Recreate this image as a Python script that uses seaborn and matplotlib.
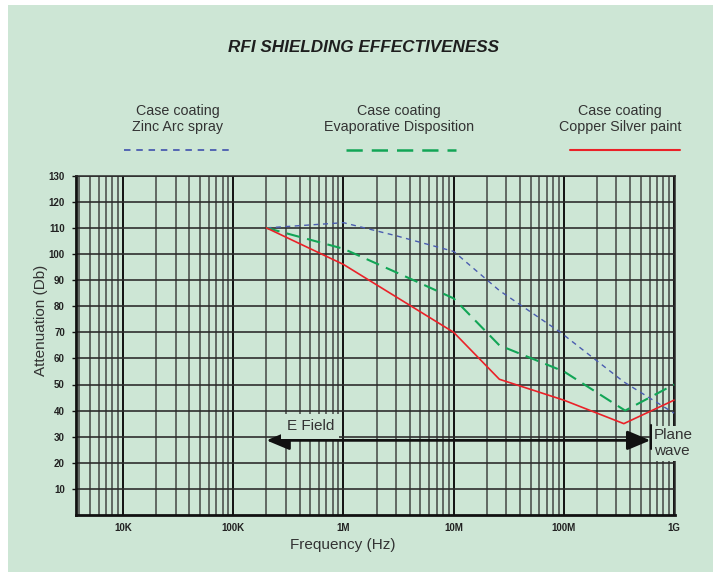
import numpy as np
import pandas as pd
import matplotlib
matplotlib.use("Agg")
import matplotlib.pyplot as plt
import seaborn as sns
from matplotlib.lines import Line2D
from matplotlib.patches import Rectangle
from matplotlib.ticker import FixedLocator, LogLocator, NullFormatter

# ---------------- data ----------------
freq_zinc = [2e5, 1e6, 3e6, 1e7, 2.6e7, 9.3e7, 3.5e8, 1e9]
att_zinc = [110, 112, 107, 101, 86, 70, 51, 39]

freq_evap = [2e5, 1e6, 3e6, 1e7, 2.6e7, 1e8, 3.6e8, 1e9]
att_evap = [110, 102, 93, 83, 65, 55, 40, 50]

freq_copper = [2e5, 1e6, 1e7, 2.6e7, 1e8, 3.5e8, 1e9]
att_copper = [110, 96, 70, 52, 44, 35, 44]

series_names = ["Case coating\nZinc Arc spray",
                "Case coating\nEvaporative Disposition",
                "Case coating\nCopper Silver paint"]

x_tick_values = [1e4, 1e5, 1e6, 1e7, 1e8, 1e9]
x_tick_labels = ["10K", "100K", "1M", "10M", "100M", "1G"]
y_tick_values = list(range(10, 140, 10))

efield_range = [2e5, 6.1e8]
efield_level = 28.6

# ---------------- style ----------------
BG = "#cde6d5"
BLUE = "#4a5cb0"
GREEN = "#12a556"
RED = "#ea2128"
GRID = "#2b2b2b"

sns.set_theme(style="white")
plt.rcParams["font.family"] = ["Liberation Sans Narrow", "Liberation Sans", "DejaVu Sans"]

W, H = 722, 577
fig = plt.figure(figsize=(W / 100, H / 100), dpi=100)
fig.patch.set_facecolor("white")
fig.patches.append(Rectangle((8 / W, 1 - 572 / H), (713 - 8) / W, (572 - 5) / H,
                             transform=fig.transFigure, facecolor=BG,
                             edgecolor="none", zorder=-5))

def fx(px):
    return px / W

def fy(py):
    return 1 - py / H

ax_l, ax_r, ax_t, ax_b = 76, 675, 175.7, 515
ax = fig.add_axes([fx(ax_l), fy(ax_b), (ax_r - ax_l) / W, (ax_b - ax_t) / H])
ax.set_facecolor(BG)
ax.set_zorder(1)

df_zinc = pd.DataFrame({"freq": freq_zinc, "att": att_zinc})
df_evap = pd.DataFrame({"freq": freq_evap, "att": att_evap})
df_copper = pd.DataFrame({"freq": freq_copper, "att": att_copper})

sns.lineplot(data=df_zinc, x="freq", y="att", ax=ax, color=BLUE, lw=1.0,
             zorder=5, sort=False)
ax.lines[-1].set_dashes([3.6, 3.2])
sns.lineplot(data=df_evap, x="freq", y="att", ax=ax, color=GREEN, lw=1.5,
             zorder=5, sort=False)
ax.lines[-1].set_dashes([6.5, 3.6])
sns.lineplot(data=df_copper, x="freq", y="att", ax=ax, color=RED, lw=1.2,
             zorder=5, sort=False)

ax.set_xscale("log")
ax.set_xlim(10 ** 3.573, 1.02e9)
ax.set_ylim(0, 130)

ax.xaxis.set_major_locator(FixedLocator(x_tick_values))
ax.set_xticklabels(x_tick_labels)
ax.xaxis.set_minor_locator(LogLocator(base=10, subs=np.arange(2, 10)))
ax.xaxis.set_minor_formatter(NullFormatter())
ax.set_yticks(y_tick_values)
ax.set_yticklabels([str(v) for v in y_tick_values])

ax.grid(True, which="major", axis="x", color="#111111", lw=1.4, zorder=1)
ax.grid(True, which="minor", axis="x", color=GRID, lw=1.1, alpha=0.85, zorder=1)
ax.grid(True, which="major", axis="y", color=GRID, lw=1.3, alpha=0.9, zorder=1)
ax.set_axisbelow(True)

for s in ["left", "bottom"]:
    ax.spines[s].set_linewidth(2.0)
    ax.spines[s].set_color("#111111")
for s in ["top", "right"]:
    ax.spines[s].set_linewidth(1.1)
    ax.spines[s].set_color(GRID)

ax.tick_params(axis="x", which="both", length=0, pad=6, labelsize=7)
ax.tick_params(axis="y", which="major", length=3, width=1, color="#111111",
               pad=5, labelsize=7, left=True)
for lab in ax.get_xticklabels() + ax.get_yticklabels():
    lab.set_fontweight("bold")
    lab.set_family(["Liberation Sans", "DejaVu Sans"])
    lab.set_color("#222222")

ax.set_xlabel("")
ax.set_ylabel("")

# axis titles
fig.text(fx(343), fy(545), "Frequency (Hz)", ha="center", va="center",
         fontsize=11, color="#333333")
fig.text(fx(41), fy(320), "Attenuation (Db)", ha="center", va="center",
         rotation=90, fontsize=11, color="#333333")

# title
fig.text(fx(364), fy(47), "RFI SHIELDING EFFECTIVENESS", ha="center", va="center",
         fontsize=12.3, fontweight="bold", fontstyle="italic", color="#1e1e1e")

# legend-like header
legend_x = [178, 399, 620]
legend_seg = [(124, 232), (346, 456), (570, 680)]
legend_colors = [BLUE, GREEN, RED]
legend_dash = [[3.6, 3.2], [6.5, 3.6], None]
legend_lw = [1.0, 1.5, 1.2]
for name, cx, (x0, x1), c, d, lw in zip(series_names, legend_x, legend_seg,
                                        legend_colors, legend_dash, legend_lw):
    fig.text(fx(cx), fy(119), name, ha="center", va="center", fontsize=10.3,
             color="#333333", linespacing=1.25)
    ln = Line2D([fx(x0), fx(x1)], [fy(150), fy(150)], transform=fig.transFigure,
                color=c, lw=lw + 0.3)
    if d is not None:
        ln.set_dashes(d)
    fig.lines.append(ln)

# E field arrow
ax.annotate("", xy=(efield_range[1], efield_level), xytext=(efield_range[0], efield_level),
            arrowprops=dict(arrowstyle="<|-|>,head_length=1.0,head_width=0.42",
                            mutation_scale=14, color="#111111", lw=2.0,
                            shrinkA=0, shrinkB=0), zorder=6)
ax.plot([efield_range[1] * 1.02] * 2, [25.3, 34.5], color="#111111", lw=1.5,
        zorder=6, clip_on=False)

ax.text(5.0e5, 34.0, "E Field", ha="center", va="center", fontsize=11,
        color="#333333", zorder=7,
        bbox=dict(boxstyle="square,pad=0.35", facecolor=BG, edgecolor="none"))
ax.text(6.6e8, 27.5, "Plane\nwave", ha="left", va="center", fontsize=11,
        color="#333333", zorder=7, linespacing=1.2, clip_on=False,
        bbox=dict(boxstyle="square,pad=0.15", facecolor=BG, edgecolor="none"))

fig.savefig("out.png", dpi=100, facecolor="white")
